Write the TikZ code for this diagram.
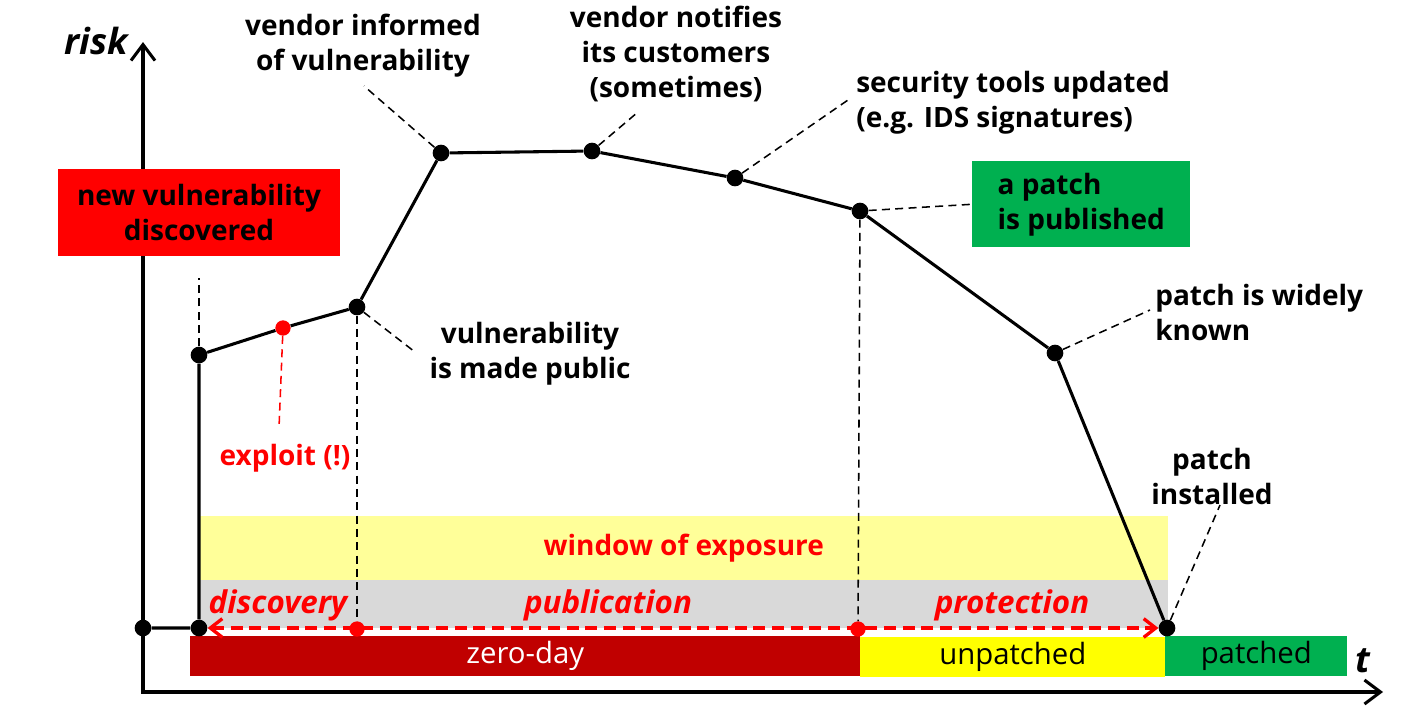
\documentclass[tikz,border=0pt]{standalone}
\usepackage{fontspec}
\setmainfont{Open Sans}
\usetikzlibrary{arrows.meta,positioning}
\definecolor{alertred}{HTML}{FF0000}
\definecolor{zerodayred}{HTML}{C00000}
\definecolor{patchgreen}{HTML}{00B050}
\definecolor{exposurefill}{HTML}{FFFF99}
\definecolor{phasefill}{HTML}{D9D9D9}
\definecolor{unpatchedfill}{HTML}{FFFF00}

\begin{document}
\begin{tikzpicture}[
  x=0.75pt,
  y=-0.75pt,
  font=\bfseries\fontsize{21}{26.25}\selectfont,
  event/.style={circle, fill=black, inner sep=0pt, minimum size=12.5pt},
  hotevent/.style={event, fill=alertred, minimum size=11.5pt},
  riskline/.style={line width=2.3pt, line join=round},
  leader/.style={dash pattern=on 6pt off 4pt, line width=1.15pt},
  callout/.style={align=center, inner sep=0pt},
  phase/.style={text=alertred, inner sep=0pt,
    font=\bfseries\itshape\fontsize{23.5}{28}\selectfont},
  band/.style={anchor=north west, inner sep=0pt, minimum width=726.75pt},
  bar/.style={anchor=north west, inner sep=0pt, minimum height=29.5pt,
    font=\fontsize{22}{26}\selectfont},
  axislabel/.style={inner sep=0pt, font=\bfseries\itshape\fontsize{27}{30}\selectfont},
  axis/.style={line width=2.3pt,
    {Straight Barb[length=12pt,width=18pt]}-{Straight Barb[length=12pt,width=18pt]}},
  span/.style={draw=alertred, line width=2.5pt, dash pattern=on 9pt off 5pt,
    {Straight Barb[length=9pt,width=14pt]}-{Straight Barb[length=9pt,width=14pt]}}
]
\useasboundingbox (0,0) rectangle (1408,708);

% Exposure bands and status bars
\node[band, fill=exposurefill, minimum height=48pt] (exposure) at (199,516) {};
\node[text=alertred] at (exposure.center) {window of exposure};
\node[band, fill=phasefill, minimum height=36pt] (phases) at (199,580) {};
\node[bar, fill=zerodayred, text=white, minimum width=502.5pt] (zeroday) at (190,636) {zero-day};
\node[bar, fill=unpatchedfill, minimum width=228.75pt] (unpatched) at (860,637) {unpatched};
\node[bar, fill=patchgreen, minimum width=136.5pt] (patched) at (1165,636) {patched};

\node[phase] (discovery) at (278,605) {discovery};
\node[phase] (publication) at (608,605) {publication};
\node[phase] (protection) at (1012,605) {protection};

% Axes
\coordinate (ytop) at (143,42);
\coordinate (corner) at (143,692);
\coordinate (xend) at (1383,692);
\draw[axis] (ytop) -- (corner) -- (xend);
\node[axislabel] (risk) at (96,41) {risk};
\node[axislabel] (time) at (1363,661) {t};

% Events on the time axis
\node[event] (origin) at (143,628) {};
\node[event] (start) at (199,628) {};
\node[event] (done) at (1167,628) {};
\node[hotevent] (public0) at (357,629) {};
\node[hotevent] (patch0) at (858,629) {};

% Risk curve
\node[event] (disc) at (199,355) {};
\node[hotevent] (expl) at (283,328) {};
\node[event] (public) at (357,307) {};
\node[event] (inform) at (441,153) {};
\node[event] (notify) at (592,151) {};
\node[event] (tools) at (735,178) {};
\node[event] (patch) at (860,211) {};
\node[event] (known) at (1055,353) {};

% Labels
\node[fill=alertred, minimum width=211.5pt, minimum height=65.25pt, align=center,
      inner sep=0pt] (newvuln) at (199,212.5) {new vulnerability\\discovered};
\node[callout] (informtxt) at (363,46) {vendor informed\\of vulnerability};
\node[callout] (notifytxt) at (676,54) {vendor notifies\\its customers\\(sometimes)};
\node[callout, anchor=west, align=left] (toolstxt) at (856,103)
      {security tools updated\\(e.g. IDS signatures)};
\node[anchor=north west, fill=patchgreen, minimum width=163.5pt, minimum height=64.5pt,
      inner sep=0pt, align=left]
      (patchtxt) at (972,161) {a patch\\is published};
\node[callout, anchor=west, align=left] (knowntxt) at (1155,312) {patch is widely\\known};
\node[callout] (installtxt) at (1212,476) {patch\\installed};
\node[callout] (publictxt) at (530,354) {vulnerability\\is made public};
\node[callout, text=alertred] (expltxt) at (285,458) {exploit (!)};

% Leader lines
\coordinate (discend) at (199,278);
\coordinate (informend) at (364,86);
\coordinate (notifyend) at (638,112);
\coordinate (toolsend) at (848,100);
\coordinate (knownend) at (1150,310);
\coordinate (installend) at (1220,505);
\coordinate (publicend) at (415,352);
\coordinate (explend) at (279,428);
\draw[leader] (disc) -- (discend);
\draw[leader] (inform) -- (informend);
\draw[leader] (notify) -- (notifyend);
\draw[leader] (tools) -- (toolsend);
\draw[leader] (patch) -- (patchtxt.west);
\draw[leader] (known) -- (knownend);
\draw[leader] (done) -- (installend);
\draw[leader] (public) -- (publicend);
\draw[leader, draw=alertred] (expl) -- (explend);
\draw[leader] (public) -- (public0);
\draw[leader] (patch) -- (patch0);

% Curve and time span
\draw[span] (start) -- (done);
\draw[riskline] (origin) -- (start) -- (disc) -- (expl) -- (public) -- (inform)
      -- (notify) -- (tools) -- (patch) -- (known) -- (done);
\end{tikzpicture}
\end{document}
